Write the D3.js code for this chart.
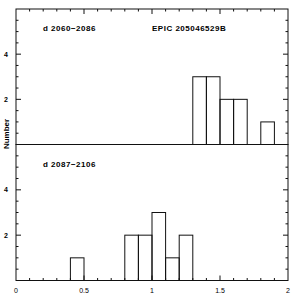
<!DOCTYPE html>
<meta charset="utf-8">
<style>
body { margin: 0; background: #fff; }
text { font-family: "Liberation Sans", Arial, sans-serif; font-weight: bold; fill: #000; }
.tick { font-size: 7px; }
.lbl { font-size: 8px; letter-spacing: 0.5px; }
</style>
<svg width="294" height="298" id="chart"></svg>
<script src="https://cdnjs.cloudflare.com/ajax/libs/d3/7.8.5/d3.min.js"></script>
<script>
// bin left edges (width 0.1) and counts
var binsTop = [1.3, 1.4, 1.5, 1.6, 1.8];
var countsTop = [3, 3, 2, 2, 1];
var binsBottom = [0.4, 0.8, 0.9, 1.0, 1.1, 1.2];
var countsBottom = [1, 2, 2, 3, 1, 2];
var binWidth = 0.1;
var xTickLabels = ["0", "0.5", "1", "1.5", "2"];
var yTickLabels = ["2", "4"];
var panelLabels = ["d 2060\u22122086", "d 2087\u22122106"];
var title = "EPIC 205046529B";

var svg = d3.select("#chart");
var left = 16, right = 288;

var x = d3.scaleLinear().domain([0, 2]).range([left, right]);

var panels = [
  { top: 9, bottom: 144.5, bins: binsTop, counts: countsTop, label: panelLabels[0], xaxis: "top" },
  { top: 144.5, bottom: 280.5, bins: binsBottom, counts: countsBottom, label: panelLabels[1], xaxis: "bottom" }
];

panels.forEach(function(p) {
  var y = d3.scaleLinear().domain([0, 6]).range([p.bottom, p.top]);
  var g = svg.append("g");

  // bars
  g.selectAll("rect").data(p.bins).enter().append("rect")
    .attr("x", function(d) { return x(d); })
    .attr("width", function(d) { return x(d + binWidth) - x(d); })
    .attr("y", function(d, i) { return y(p.counts[i]); })
    .attr("height", function(d, i) { return y(0) - y(p.counts[i]); })
    .attr("fill", "none")
    .attr("stroke", "#111")
    .attr("stroke-width", 1);

  // frame
  g.append("rect")
    .attr("x", left).attr("y", p.top)
    .attr("width", right - left).attr("height", p.bottom - p.top)
    .attr("fill", "none").attr("stroke", "#111").attr("stroke-width", 1);

  // y ticks, left and right, inward
  d3.range(0.5, 6, 0.5).forEach(function(v) {
    var major = Math.abs(v % 2) < 1e-6;
    var len = major ? 5 : 2.5;
    g.append("line").attr("x1", left).attr("x2", left + len)
      .attr("y1", y(v)).attr("y2", y(v)).attr("stroke", "#111");
    g.append("line").attr("x1", right).attr("x2", right - len)
      .attr("y1", y(v)).attr("y2", y(v)).attr("stroke", "#111");
  });
  yTickLabels.forEach(function(t) {
    g.append("text").attr("class", "tick")
      .attr("x", 6).attr("y", y(+t) + 2.5)
      .attr("text-anchor", "middle").text(t);
  });

  // x ticks on outer edge
  var edge = p.xaxis === "top" ? p.top : p.bottom;
  var dir = p.xaxis === "top" ? 1 : -1;
  d3.range(1, 20).forEach(function(k) {
    var v = k / 10;
    var len = (k % 5 === 0) ? 5 : 2.5;
    g.append("line").attr("x1", x(v)).attr("x2", x(v))
      .attr("y1", edge).attr("y2", edge + dir * len).attr("stroke", "#111");
  });

  g.append("text").attr("class", "lbl")
    .attr("x", 43).attr("y", p.top + 22).text(p.label);
});

svg.append("text").attr("class", "lbl")
  .attr("x", 152).attr("y", 31).text(title);

xTickLabels.forEach(function(t) {
  svg.append("text").attr("class", "tick")
    .attr("x", x(+t)).attr("y", 293)
    .attr("text-anchor", "middle")
    .style("font-weight", "normal")
    .text(t);
});

svg.append("text")
  .attr("transform", "translate(9,134) rotate(-90)")
  .attr("text-anchor", "middle")
  .style("font-size", "8px")
  .text("Number");
</script>
